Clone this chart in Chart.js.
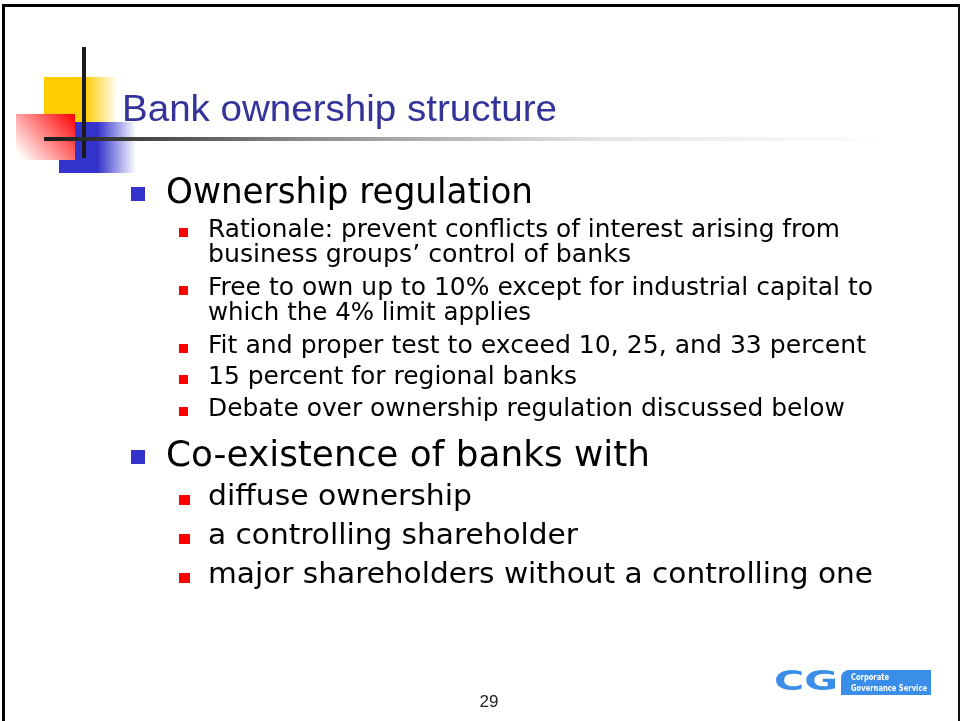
<!DOCTYPE html>
<html><head><meta charset="utf-8">
<script src="https://cdn.jsdelivr.net/npm/chart.js@4"></script>
<style>
html,body{margin:0;padding:0;background:#fff;}
#slide{position:relative;width:962px;height:721px;overflow:hidden;background:#fff;}
#deco{position:absolute;left:0;top:0;width:962px;height:721px;}
.t{position:absolute;white-space:nowrap;transform-origin:0 0;margin:0;padding:0;}
.b{position:absolute;}
#frame{position:absolute;left:2px;top:4px;width:953px;height:740px;border-left:3px solid #000;border-top:3px solid #000;border-right:2px solid #111;}
</style></head>
<body>
<div id="slide">
  <canvas id="deco" width="962" height="721"></canvas>
  <div id="frame"></div>
</div>
<script>
// ---- slide content (data) ----
const titleText = "Bank ownership structure";
const level1Items = ["Ownership regulation", "Co-existence of banks with"];
const regulationItems = [
  ["Rationale: prevent conflicts of interest arising from", "business groups\u2019 control of banks"],
  ["Free to own up to 10% except for industrial capital to", "which the 4% limit applies"],
  ["Fit and proper test to exceed 10, 25, and 33 percent"],
  ["15 percent for regional banks"],
  ["Debate over ownership regulation discussed below"]
];
const coexistItems = ["diffuse ownership", "a controlling shareholder", "major shareholders without a controlling one"];
const pageNumber = "29";
const logoLetters = "CG";
const logoLines = ["Corporate", "Governance Service"];

// ---- helpers ----
const slide = document.getElementById('slide');
const mctx = document.createElement('canvas').getContext('2d');
function place(text, family, size, weight, x, baseline, targetW, color, center){
  const font = weight + ' ' + size + 'px ' + family;
  mctx.font = font;
  const m = mctx.measureText(text);
  const A = m.fontBoundingBoxAscent, D = m.fontBoundingBoxDescent;
  const L = Math.ceil(A + D) + 2;
  const d = document.createElement('div');
  d.className = 't';
  d.textContent = text;
  d.style.font = font;
  d.style.lineHeight = L + 'px';
  d.style.color = color;
  const top = baseline - ((L - (A + D)) / 2 + A);
  d.style.top = top + 'px';
  let sx = 1;
  if (targetW) sx = targetW / m.width;
  if (center) x = x - (m.width * sx) / 2;
  d.style.left = x + 'px';
  if (sx !== 1) d.style.transform = 'scaleX(' + sx.toFixed(4) + ')';
  slide.appendChild(d);
  return d;
}
function box(x, y, w, h, color){
  const d = document.createElement('div');
  d.className = 'b';
  Object.assign(d.style, {left:x+'px', top:y+'px', width:w+'px', height:h+'px', background:color});
  slide.appendChild(d);
  return d;
}

// ---- decoration drawn through Chart.js plugin ----
const decoPlugin = {
  id: 'slideDeco',
  beforeDraw(chart){
    const c = chart.ctx;
    c.save();
    // yellow square
    let g = c.createLinearGradient(44, 0, 118, 0);
    g.addColorStop(0, '#ffcc00'); g.addColorStop(0.55, '#ffcc00'); g.addColorStop(1, 'rgba(255,204,0,0)');
    c.fillStyle = g; c.fillRect(44, 77, 74, 45);
    // blue square
    g = c.createLinearGradient(59, 0, 136, 0);
    g.addColorStop(0, '#3333cc'); g.addColorStop(0.5, '#3333cc'); g.addColorStop(1, 'rgba(51,51,204,0)');
    c.fillStyle = g; c.fillRect(59, 122, 77, 51);
    // red square (opaque gradient red -> white)
    g = c.createLinearGradient(75, 114, 22, 160);
    g.addColorStop(0, '#ff0000'); g.addColorStop(1, '#ffffff');
    c.fillStyle = g; c.fillRect(16, 114, 59, 46);
    // vertical line
    c.fillStyle = '#1a1a1a'; c.fillRect(82, 47, 4, 111);
    // horizontal line
    g = c.createLinearGradient(44, 0, 895, 0);
    g.addColorStop(0, '#1a1a1a'); g.addColorStop(0.3, '#8a8a8a'); g.addColorStop(0.65, '#e4e4e4'); g.addColorStop(1, 'rgba(255,255,255,1)');
    c.fillStyle = g; c.fillRect(44, 137, 851, 4);
    c.restore();
  }
};
new Chart(document.getElementById('deco'), {
  type: 'scatter',
  data: { datasets: [] },
  options: {
    responsive: false, animation: false,
    layout: { padding: 0 },
    plugins: { legend: { display: false }, tooltip: { enabled: false } },
    scales: { x: { display: false }, y: { display: false } }
  },
  plugins: [decoPlugin]
});

// ---- text ----
const BODY = '"DejaVu Sans", sans-serif';
const HEAD = '"Liberation Sans", Arial, sans-serif';
place(titleText, HEAD, 36, 'normal', 122, 121, 435, '#333399');

// level 1
const l1Base = [203, 466];
const l1W = [367, 484];
level1Items.forEach((t, i) => {
  place(t, BODY, 35, 'normal', 166, l1Base[i], l1W[i], '#000');
  box(131, l1Base[i] - 16, 14, 14, '#3333cc');
});

// regulation sub-items
const regBase = [[237, 262], [295, 320], [353], [384], [416]];
const regW = [[632, 423], [665, 323], [658], [369], [637]];
regulationItems.forEach((lines, i) => {
  lines.forEach((ln, j) => {
    place(ln, BODY, 24, 'normal', 208, regBase[i][j], regW[i][j], '#000');
  });
  box(179, regBase[i][0] - 9, 9, 9, '#ff0000');
});

// co-existence sub-items
const coBase = [505, 544, 583];
const coW = [264, 370, 665];
coexistItems.forEach((t, i) => {
  place(t, BODY, 29, 'normal', 208, coBase[i], coW[i], '#000');
  box(179, coBase[i] - 10, 11, 10, '#ff0000');
});

// page number
place(pageNumber, HEAD, 17, 'normal', 489, 707, 0, '#222', true);

// logo
place(logoLetters, '"DejaVu Sans", sans-serif', 26, 'bold', 774, 690, 64, '#3a8ee8');
const lb = box(841, 670, 90, 25, '#3a8ee8');
lb.style.borderRadius = '8px 0 0 0';
place(logoLines[0], '"DejaVu Sans Condensed", "DejaVu Sans", sans-serif', 9, 'bold', 851, 680, 38, '#fff');
place(logoLines[1], '"DejaVu Sans Condensed", "DejaVu Sans", sans-serif', 9, 'bold', 851, 691, 76, '#fff');
</script>
</body></html>
